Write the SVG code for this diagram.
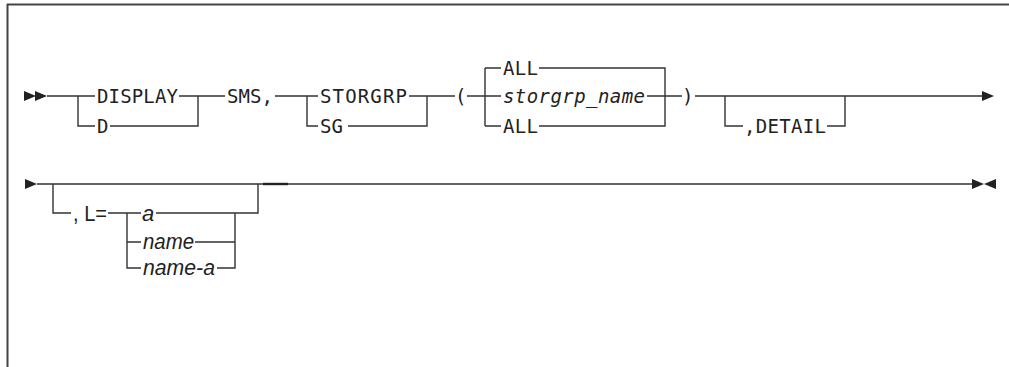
<svg xmlns="http://www.w3.org/2000/svg" xmlns:xlink="http://www.w3.org/1999/xlink" width="1009" height="367" viewBox="0 0 1009 367">
<defs>
<style>
.ln{stroke:#333;stroke-width:1.4;fill:none}
.bd{stroke:#444;stroke-width:2;fill:none}
.kw{font-family:"DejaVu Sans Mono","Liberation Mono",monospace;font-size:19px;fill:#222}
.it{font-family:"DejaVu Sans Mono","Liberation Mono",monospace;font-size:19px;font-style:italic;fill:#222}
.iv{font-family:"Liberation Sans",Arial,sans-serif;font-size:22px;font-style:italic;fill:#222}
.sv{font-family:"Liberation Sans",Arial,sans-serif;font-size:22px;fill:#222}
.ar{fill:#222}
</style>
<path id="rt" d="M0,-5 L12,0 L0,5 Z"/>
<path id="lt" d="M12,-5 L0,0 L12,5 Z"/>
</defs>
<rect width="1009" height="367" fill="#fff"/>
<g id="frame">
<line class="bd" x1="7" y1="4.5" x2="1009" y2="4.5"/>
<line class="bd" x1="7.5" y1="4" x2="7.5" y2="367"/>
</g>
<g id="connectors">
<use href="#rt" xlink:href="#rt" class="ar" x="24" y="96"/>
<use href="#rt" xlink:href="#rt" class="ar" x="35" y="96"/>
<path class="ln" d="M47,96 H95 M78,96 V126 H95 M179,96 H225 M110,126 H198 V96"/>
<path class="ln" d="M275,96 H318 M307,96 V126 H318 M409,96 H455 M348,126 H427 V96"/>
<path class="ln" d="M467,96 H501 M485,68 V126 M485,68 H501 M485,126 H501 M539,68 H665 V126 H539 M647,96 H682"/>
<path class="ln" d="M695,96 H982 M725,96 V126 H743 M827,126 H845 V96"/>
<use href="#rt" xlink:href="#rt" class="ar" x="982" y="96"/>
<use href="#rt" xlink:href="#rt" class="ar" x="25" y="184"/>
<path class="ln" d="M37,184 H972 M53,184 V213 H71 M108,213 H141 M127,213 V268 H141 M127,242 H141 M156,213 H235 M195,242 H235 M217,268 H235 V213 H258 V184"/>
<line x1="263" y1="184" x2="288" y2="184" stroke="#222" stroke-width="2.4"/>
<use href="#rt" xlink:href="#rt" class="ar" x="972" y="184"/>
<use href="#lt" xlink:href="#lt" class="ar" x="984" y="184"/>
</g>
<g id="n-display"><text class="kw" x="97" y="103" textLength="81">DISPLAY</text></g>
<g id="n-d"><text class="kw" x="97" y="133">D</text></g>
<g id="n-sms"><text class="kw" x="227" y="103" textLength="46">SMS,</text></g>
<g id="n-storgrp"><text class="kw" x="320" y="103" textLength="87">STORGRP</text></g>
<g id="n-sg"><text class="kw" x="320" y="133">SG</text></g>
<g id="n-lparen"><text class="kw" x="455" y="103">(</text></g>
<g id="n-all-default"><text class="kw" x="503" y="75" textLength="35">ALL</text></g>
<g id="n-storgrp-name"><text class="it" x="503" y="103" textLength="142">storgrp_name</text></g>
<g id="n-all"><text class="kw" x="503" y="133" textLength="35">ALL</text></g>
<g id="n-rparen"><text class="kw" x="682" y="103">)</text></g>
<g id="n-detail"><text class="kw" x="744" y="133" textLength="82">,DETAIL</text></g>
<g id="n-l"><text class="sv" x="73" y="221" textLength="34" lengthAdjust="spacingAndGlyphs">, L=</text></g>
<g id="n-a"><text class="iv" x="142" y="221">a</text></g>
<g id="n-name"><text class="iv" x="143" y="249" textLength="51" lengthAdjust="spacingAndGlyphs">name</text></g>
<g id="n-name-a"><text class="iv" x="143" y="275" textLength="72" lengthAdjust="spacingAndGlyphs">name-a</text></g>
</svg>
